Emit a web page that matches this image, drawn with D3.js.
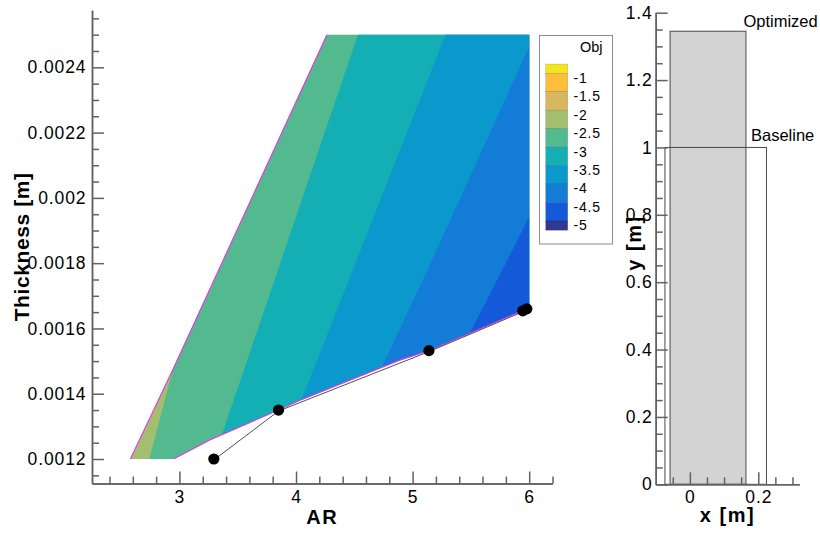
<!DOCTYPE html>
<html>
<head>
<meta charset="utf-8">
<script src="https://cdn.jsdelivr.net/npm/d3@7"></script>
<style>
  html, body { margin: 0; padding: 0; background: #ffffff; }
  svg { display: block; }
  text { font-family: "Liberation Sans", Arial, Helvetica, sans-serif; fill: #000; }
  .tick-num { font-size: 17.5px; letter-spacing: 0.9px; }
  .title { font-size: 20px; font-weight: bold; letter-spacing: 1.5px; }
  .leg-num { font-size: 14px; letter-spacing: 0.8px; }
</style>
</head>
<body>
<svg id="chart" width="820" height="537"></svg>
<script>
// ---- Design space: feasible region boundary (AR, thickness [m]) ----
const regionLeft  = [[2.579, 0.0012], [2.942, 0.001473], [4.265, 0.0025]];
const regionTop   = [[4.265, 0.0025], [6.0, 0.0025]];
const regionRight = [[6.0, 0.0025], [6.0, 0.001663]];
const regionLower = [[2.95, 0.0012], [3.26, 0.001258], [3.85, 0.00135], [4.03, 0.001379], [4.89, 0.001503], [5.14, 0.001532], [5.49, 0.001585], [6.0, 0.001663]];

// ---- Objective iso-lines inside the region (top to bottom) ----
const isoLevels = [-2.5, -3, -3.5, -4, -4.5];
const isoLines = [
  [[2.942, 0.001473], [2.742, 0.0012]],
  [[4.531, 0.0025], [3.859, 0.001794], [3.365, 0.001276]],
  [[5.282, 0.0025], [4.503, 0.001794], [4.045, 0.001381]],
  [[6.0, 0.002463], [5.147, 0.001794], [4.746, 0.001488]],
  [[6.0, 0.001942], [5.791, 0.001794], [5.49, 0.001585]]
];

// ---- Optimisation history ----
const iterAR = [3.295, 3.85, 5.14, 5.945, 5.98];
const iterThickness = [0.0012, 0.00135, 0.001532, 0.001654, 0.00166];

// ---- Legend levels and band colours (highest band first) ----
const legendLevels = [-1, -1.5, -2, -2.5, -3, -3.5, -4, -4.5, -5];
const legendLabels = ["-1", "-1.5", "-2", "-2.5", "-3", "-3.5", "-4", "-4.5", "-5"];
const bandColors = ["#f4e61e", "#fbbf3c", "#d7b75f", "#a2be6e", "#53ba8f", "#14afb5", "#0a98cd", "#127cd7", "#1459da", "#33388f"];

// ---- Wing planforms (right panel) ----
const wingNames = ["Baseline", "Optimized"];
const wingLE = [-0.073, -0.058];
const wingTE = [0.224, 0.164];
const wingSpan = [1.0, 1.345];

// ---- Tick values ----
const arMajor = [3, 4, 5, 6];
const arMinor = [2.4, 2.6, 2.8, 3.2, 3.4, 3.6, 3.8, 4.2, 4.4, 4.6, 4.8, 5.2, 5.4, 5.6, 5.8, 6.2];
const thMajor = [0.0012, 0.0014, 0.0016, 0.0018, 0.002, 0.0022, 0.0024];
const thMajorLabels = ["0.0012", "0.0014", "0.0016", "0.0018", "0.002", "0.0022", "0.0024"];
const thMinor = [0.00115, 0.00125, 0.0013, 0.00135, 0.00145, 0.0015, 0.00155, 0.00165, 0.0017, 0.00175,
                 0.00185, 0.0019, 0.00195, 0.00205, 0.0021, 0.00215, 0.00225, 0.0023, 0.00235, 0.00245, 0.0025, 0.00255];
const pxMajor = [0, 0.2];
const pxMinor = [-0.05, 0.05, 0.1, 0.15, 0.25, 0.3];
const pyMajor = [0, 0.2, 0.4, 0.6, 0.8, 1, 1.2, 1.4];
const pyMinor = [0.05, 0.1, 0.15, 0.25, 0.3, 0.35, 0.45, 0.5, 0.55, 0.65, 0.7, 0.75, 0.85, 0.9, 0.95, 1.05, 1.1, 1.15, 1.25, 1.3, 1.35];

const svg = d3.select("#chart");
const axisColor = "#626262";

// Scales
const xL = d3.scaleLinear().domain([2.25, 6.2]).range([92, 552.5]);
const yL = d3.scaleLinear().domain([0.001125, 0.002575]).range([483.5, 10.2]);
const xR = d3.scaleLinear().domain([-0.1, 0.32]).range([655.7, 799.3]);
const yR = d3.scaleLinear().domain([0, 1.4]).range([484.3, 12.7]);
const legY = d3.scaleLinear().domain([-1, -5]).range([73.3, 221]);

const lineL = d3.line().x(d => xL(d[0])).y(d => yL(d[1]));

// ---------- Contour panel ----------
const regionPoly = regionLeft
  .concat(regionTop.slice(1))
  .concat(regionRight.slice(1))
  .concat(regionLower.slice().reverse().slice(1));

svg.append("defs").append("clipPath").attr("id", "region-clip")
  .append("path").attr("d", lineL(regionPoly) + "Z");

const field = svg.append("g").attr("clip-path", "url(#region-clip)");
field.append("path").attr("d", lineL(regionPoly) + "Z").attr("fill", bandColors[3]);

// Each iso-line closes to the low-objective side; later (lower) levels paint over earlier ones.
const [arLo, arHi] = xL.domain();
const [thLo, thHi] = yL.domain();
isoLines.forEach((pts, i) => {
  const first = pts[0], last = pts[pts.length - 1];
  const poly = pts.concat([[last[0], thLo], [arHi + 1, thLo], [arHi + 1, thHi], [first[0], thHi]]);
  const level = isoLevels[i];
  const idx = legendLevels.indexOf(level) + 1;
  field.append("path").attr("d", lineL(poly) + "Z").attr("fill", bandColors[idx]);
});

// Constraint boundaries
[regionLeft, regionLower].forEach(b => {
  svg.append("path").attr("d", lineL(b)).attr("fill", "none")
    .attr("stroke", "#e535e5").attr("stroke-width", 1.1);
});

// Optimisation path and iterates
const iterPts = iterAR.map((a, i) => [a, iterThickness[i]]);
svg.append("path").attr("d", d3.line().x(d => xL(d[0])).y(d => yL(d[1] - 0.000003))(iterPts))
  .attr("fill", "none").attr("stroke", "#505050").attr("stroke-width", 1);
svg.selectAll("circle.iter").data(iterPts).join("circle").attr("class", "iter")
  .attr("cx", d => xL(d[0])).attr("cy", d => yL(d[1])).attr("r", 5.6).attr("fill", "#000");

// Axes helper: inward ticks
function styleAxis(g) {
  g.selectAll("path, line").attr("stroke", axisColor).attr("stroke-width", 1.5);
}
const gxL = svg.append("g").attr("transform", `translate(0,${yL.range()[0]})`);
gxL.call(d3.axisBottom(xL).tickValues(arMinor).tickSize(-7).tickSizeOuter(0).tickFormat(""));
gxL.append("g").call(d3.axisBottom(xL).tickValues(arMajor).tickSize(-12).tickSizeOuter(0).tickPadding(7.5).tickFormat(d3.format("d")));
styleAxis(gxL);

const gyL = svg.append("g").attr("transform", `translate(${xL.range()[0]},0)`);
gyL.call(d3.axisLeft(yL).tickValues(thMinor).tickSize(-7).tickSizeOuter(0).tickFormat(""));
gyL.append("g").call(d3.axisLeft(yL).tickValues(thMajor).tickSize(-12).tickSizeOuter(0).tickPadding(5.5)
  .tickFormat((d, i) => thMajorLabels[i]));
styleAxis(gyL);

[gxL, gyL].forEach(g => g.selectAll("text").attr("class", "tick-num").attr("font-family", null).attr("font-size", null).attr("fill", "#000"));

svg.append("text").attr("class", "title").attr("text-anchor", "middle")
  .attr("x", (xL.range()[0] + xL.range()[1]) / 2).attr("y", 524).text("AR");
svg.append("text").attr("class", "title").attr("text-anchor", "middle")
  .style("font-size", "21px").style("letter-spacing", "0.6px")
  .attr("transform", `translate(29,${(yL.range()[0] + yL.range()[1]) / 2}) rotate(-90)`).text("Thickness [m]");

// Legend
const leg = svg.append("g");
leg.append("rect").attr("x", 539.5).attr("y", 35.5).attr("width", 73).attr("height", 208.5)
  .attr("fill", "#fff").attr("stroke", "#8c8c8c").attr("stroke-width", 1);
leg.append("text").attr("x", 602.5).attr("y", 51.5).attr("text-anchor", "end")
  .style("font-size", "14.5px").text("Obj");
const half = (legY(-1.5) - legY(-1)) / 2;
bandColors.forEach((c, i) => {
  const top = i === 0 ? legY(legendLevels[0]) - half : legY(legendLevels[i - 1]);
  const bot = i === bandColors.length - 1 ? legY(legendLevels[legendLevels.length - 1]) + half : legY(legendLevels[i]);
  leg.append("rect").attr("x", 545.7).attr("y", top).attr("width", 22).attr("height", bot - top)
    .attr("fill", c).attr("stroke", "rgba(0,0,0,0.25)").attr("stroke-width", 0.5);
});
legendLevels.forEach((lv, i) => {
  leg.append("text").attr("class", "leg-num").attr("x", 573.5).attr("y", legY(lv) + 4.5)
    .attr("dy", "0.35em").text(legendLabels[i]);
});

// ---------- Planform panel ----------
const order = [1, 0]; // optimized (filled) below the baseline outline
order.forEach(i => {
  svg.append("rect")
    .attr("x", xR(wingLE[i])).attr("y", yR(wingSpan[i]))
    .attr("width", xR(wingTE[i]) - xR(wingLE[i])).attr("height", yR(0) - yR(wingSpan[i]))
    .attr("fill", i === 1 ? "#d3d3d3" : "none")
    .attr("stroke", "#4a4a4a").attr("stroke-width", 1);
});
svg.append("text").style("font-size", "16.5px")
  .attr("x", xR(wingTE[1]) - 2.5).attr("y", yR(wingSpan[1]) - 4.7).text(wingNames[1]);
svg.append("text").style("font-size", "16.5px")
  .attr("x", xR(wingTE[0]) - 15.5).attr("y", yR(wingSpan[0]) - 6.6).text(wingNames[0]);

const gxR = svg.append("g").attr("transform", `translate(0,${yR.range()[0]})`);
gxR.call(d3.axisBottom(xR).tickValues(pxMinor).tickSize(-7).tickSizeOuter(0).tickFormat(""));
gxR.append("g").call(d3.axisBottom(xR).tickValues(pxMajor).tickSize(-12).tickSizeOuter(0).tickPadding(6)
  .tickFormat(d => d === 0 ? "0" : d3.format(".1f")(d)));
styleAxis(gxR);

const gyR = svg.append("g").attr("transform", `translate(${xR.range()[0]},0)`);
gyR.call(d3.axisLeft(yR).tickValues(pyMinor).tickSize(-7).tickSizeOuter(0).tickFormat(""));
gyR.append("g").call(d3.axisLeft(yR).tickValues(pyMajor).tickSize(-12).tickSizeOuter(0).tickPadding(3)
  .tickFormat(d => d === 0 ? "0" : (d === 1 ? "1" : d3.format(".1f")(d))));
styleAxis(gyR);
[gxR, gyR].forEach(g => g.selectAll("text").attr("class", "tick-num").attr("font-family", null).attr("font-size", null).attr("fill", "#000"));

svg.append("text").attr("class", "title").attr("text-anchor", "middle")
  .attr("x", (xR.range()[0] + xR.range()[1]) / 2).attr("y", 522).text("x [m]");
svg.append("text").attr("class", "title").attr("text-anchor", "middle")
  .attr("transform", `translate(641,243) rotate(-90)`).text("y [m]");
</script>
</body>
</html>
